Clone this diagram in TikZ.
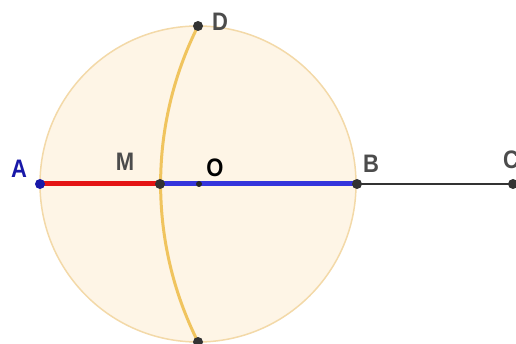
\documentclass[tikz,border=0pt]{standalone}
\usepackage{fontspec}
\setmainfont{Liberation Sans}
\newcommand{\tallt}[1]{\scalebox{1}[1.15]{#1}}
\begin{document}
\begin{tikzpicture}[x=1pt,y=-1pt,
  pt/.style={circle,fill=black!80,inner sep=0pt,minimum size=10pt},
  lbl/.style={font=\fontsize{22}{22}\selectfont\bfseries,text=black!70,inner sep=0pt}]
\useasboundingbox (0,0) rectangle (516,344);
\definecolor{circfill}{HTML}{FEF5E6}
\definecolor{circline}{HTML}{F3D9A8}
\definecolor{arcline}{HTML}{F0C45E}
\definecolor{redseg}{HTML}{E41414}
\definecolor{blueseg}{HTML}{3535DC}
\definecolor{ablue}{HTML}{1818A8}
\coordinate (Oc) at (198,184);
\fill[circfill] (Oc) circle[radius=158];
\draw[circline,line width=1.5pt] (Oc) circle[radius=158];
\coordinate (A) at (40,184);
\coordinate (M) at (160,184);
\coordinate (O) at (199,184);
\coordinate (B) at (357,184);
\coordinate (C) at (513,184);
\coordinate (D) at (198,26);
\coordinate (E) at (198,342);
% arc centred at C through D, M, E
\draw[arcline,line width=3pt] (D) arc[start angle={180+atan(158/315)},end angle={180-atan(158/315)},radius=352.4];
\draw[redseg,line width=5pt] (A) -- (M);
\draw[blueseg,line width=5pt] (M) -- (B);
\draw[black!80,line width=1.3pt] (B) -- (C);
\node[pt,fill=ablue] (nA) at (A) {};
\node[pt] (nM) at (M) {};
\node[circle,fill=black!85,inner sep=0pt,minimum size=6pt] (nO) at (O) {};
\node[pt] (nB) at (B) {};
\node[pt] (nC) at (C) {};
\node[pt] (nD) at (D) {};
\node[pt] (nE) at (E) {};
\node[lbl,text=ablue] (lA) at (19,169) {\tallt{A}};
\node[lbl] (lM) at (125,162) {\tallt{M}};
\node[lbl,text=black] (lO) at (215,168) {\tallt{O}};
\node[lbl] (lB) at (371,164) {\tallt{B}};
\node[lbl] (lC) at (511,160) {\tallt{C}};
\node[lbl] (lD) at (220,22) {\tallt{D}};
\end{tikzpicture}
\end{document}
